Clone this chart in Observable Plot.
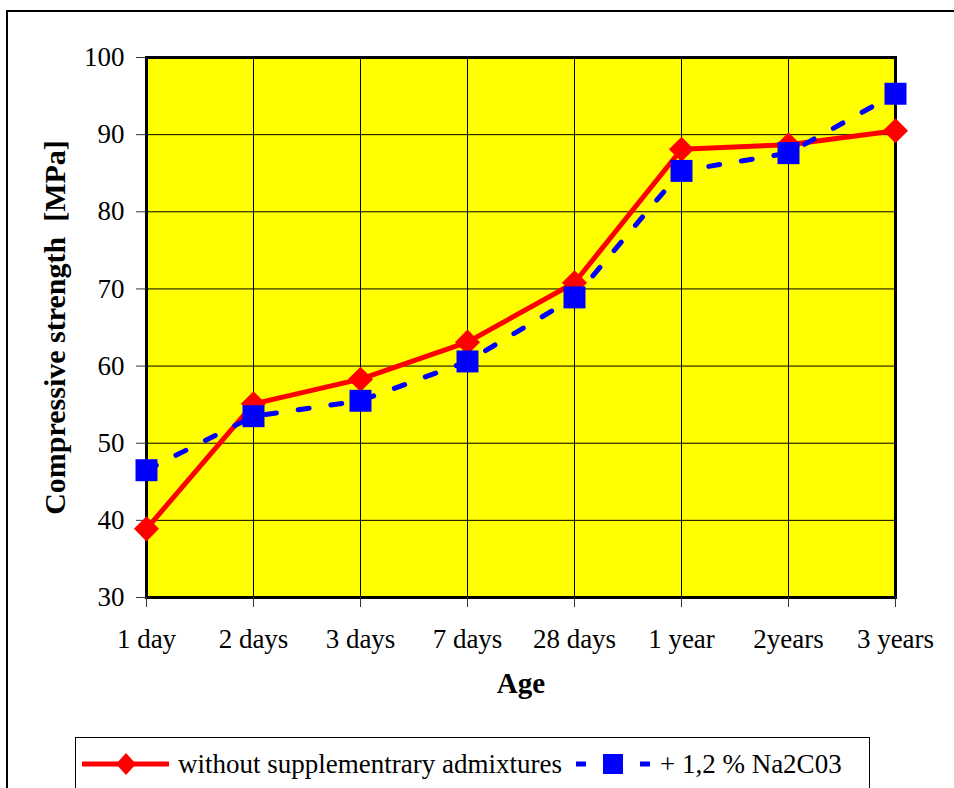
<!DOCTYPE html>
<html>
<head>
<meta charset="utf-8">
<script src="https://cdn.jsdelivr.net/npm/d3@7"></script>
<script src="https://cdn.jsdelivr.net/npm/@observablehq/plot@0.6"></script>
<style>
  html, body { margin: 0; padding: 0; background: #fff; width: 954px; height: 788px; overflow: hidden; }
  body { position: relative; font-family: 'Liberation Serif', serif; }
  #outer { position: absolute; left: 6px; top: 10px; width: 1000px; height: 900px; border: 2px solid #000; box-sizing: border-box; }
  #chart { position: absolute; left: 0; top: 0; }
  #legend { position: absolute; left: 75px; top: 737px; width: 795px; height: 54px; border: 1px solid #000; box-sizing: border-box; background: #fff;
            display: flex; align-items: center; font-family: 'Liberation Serif', serif; font-size: 27px; white-space: nowrap; }
  #legend svg { display: block; }
  .lg { display: flex; align-items: center; }
</style>
</head>
<body>
<div id="outer"></div>
<div id="chart"></div>
<div id="legend"></div>
<script>
const ages = ["1 day", "2 days", "3 days", "7 days", "28 days", "1 year", "2years", "3 years"];
const plainValues = [38.9, 55.1, 58.3, 63.1, 70.8, 88.1, 88.7, 90.5];
const naValues = [46.5, 53.5, 55.5, 60.6, 68.9, 85.3, 87.6, 95.3];
const yTicks = [30, 40, 50, 60, 70, 80, 90, 100];
const seriesNames = ["without supplementrary admixtures", "+ 1,2 % Na2C03"];

const plain = ages.map((a, i) => ({age: a, value: plainValues[i]}));
const na = ages.map((a, i) => ({age: a, value: naValues[i]}));

const chart = Plot.plot({
  width: 954,
  height: 735,
  marginLeft: 146,
  marginRight: 59,
  marginTop: 57,
  marginBottom: 138,
  style: {fontFamily: "'Liberation Serif', serif", fontSize: "27px", background: "transparent", color: "#000", overflow: "visible"},
  x: {type: "point", domain: ages, padding: 0},
  y: {domain: [30, 100]},
  marks: [
    Plot.frame({fill: "#FFFF00"}),
    Plot.gridX(ages, {stroke: "#000", strokeOpacity: 1, strokeWidth: 1}),
    Plot.gridY(yTicks, {stroke: "#000", strokeOpacity: 1, strokeWidth: 1}),
    Plot.frame({stroke: "#000", strokeWidth: 3}),
    Plot.axisX(ages, {tickSize: 10, tickPadding: 21, fontSize: 27, label: null, stroke: "#333"}),
    Plot.axisY(yTicks, {tickSize: 10, tickPadding: 12, fontSize: 27, label: null, stroke: "#333"}),
    Plot.text(["Age"], {frameAnchor: "bottom", dy: 95, fontWeight: "bold", fontSize: 29}),
    Plot.text(["Compressive strength\u00a0 [MPa]"], {frameAnchor: "left", textAnchor: "middle", dx: -91, rotate: -90, fontWeight: "bold", fontSize: 30}),
    Plot.line(plain, {x: "age", y: "value", stroke: "#FF0000", strokeWidth: 5}),
    Plot.dot(plain, {x: "age", y: "value", symbol: "diamond2", r: 11.3, fill: "#FF0000", stroke: "none"}),
    Plot.line(na, {x: "age", y: "value", stroke: "#0000FF", strokeWidth: 5, strokeDasharray: "11,22"}),
    Plot.dot(na, {x: "age", y: "value", symbol: "square", r: 12.4, fill: "#0000FF", stroke: "none"})
  ]
});
document.getElementById("chart").appendChild(chart);

const legend = document.getElementById("legend");
legend.innerHTML = `
  <div class="lg" style="margin-left:4px">
    <svg width="90" height="30"><line x1="2" y1="15" x2="89" y2="15" stroke="#FF0000" stroke-width="5"/>
      <path d="M46,4 L56,15 L46,26 L36,15 Z" fill="#FF0000"/></svg>
    <span style="margin-left:8px">${seriesNames[0]}</span>
  </div>
  <div class="lg" style="margin-left:12px">
    <svg width="80" height="30"><line x1="2" y1="15" x2="76" y2="15" stroke="#0000FF" stroke-width="5" stroke-dasharray="10,54"/>
      <rect x="29" y="5" width="20" height="20" fill="#0000FF"/></svg>
    <span style="margin-left:6px">${seriesNames[1]}</span>
  </div>`;
</script>
</body>
</html>
